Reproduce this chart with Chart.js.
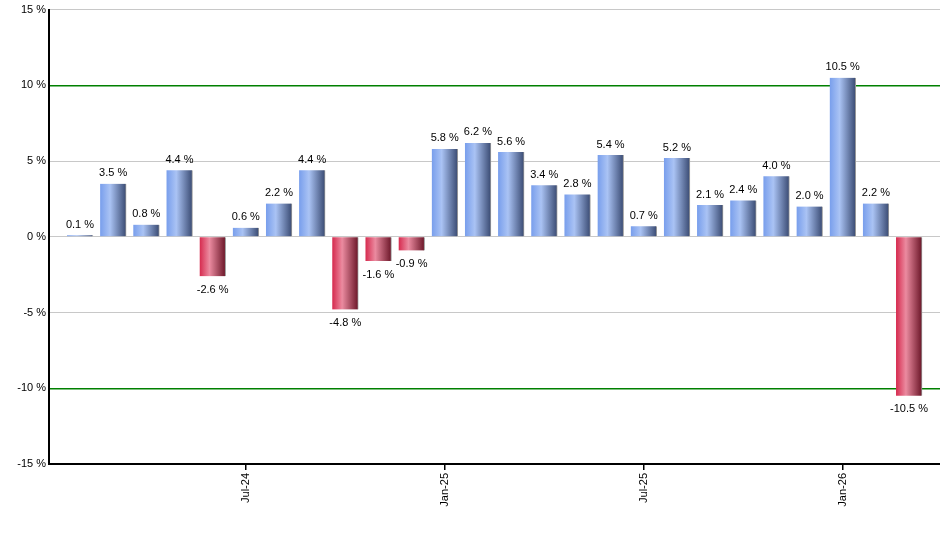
<!DOCTYPE html>
<html>
<head>
<meta charset="utf-8">
<script src="https://cdn.jsdelivr.net/npm/chart.js@4/dist/chart.umd.min.js"></script>
<style>
  html, body { margin: 0; padding: 0; background: #fff; }
  #wrap { width: 940px; height: 550px; }
</style>
</head>
<body>
<div id="wrap"><canvas id="chart"></canvas></div>
<script>
// monthly returns, Feb-24 .. Mar-26
const months = ["Feb-24","Mar-24","Apr-24","May-24","Jun-24","Jul-24","Aug-24","Sep-24","Oct-24","Nov-24","Dec-24",
  "Jan-25","Feb-25","Mar-25","Apr-25","May-25","Jun-25","Jul-25","Aug-25","Sep-25","Oct-25","Nov-25","Dec-25",
  "Jan-26","Feb-26","Mar-26"];
const returns = [0.1, 3.5, 0.8, 4.4, -2.6, 0.6, 2.2, 4.4, -4.8, -1.6, -0.9,
  5.8, 6.2, 5.6, 3.4, 2.8, 5.4, 0.7, 5.2, 2.1, 2.4, 4.0, 2.0,
  10.5, 2.2, -10.5];
const shownTicks = ["Jul-24", "Jan-25", "Jul-25", "Jan-26"];
const yTicks = [-15, -10, -5, 0, 5, 10, 15];

const FONT = "'Liberation Sans', Arial, sans-serif";

function barFill(context) {
  const chart = context.chart;
  const v = context.raw ? context.raw.y : 0;
  if (!chart.chartArea || !chart.scales.x) return v < 0 ? '#d8284c' : '#7aa0ec';
  const cx = chart.scales.x.getPixelForValue(context.raw.x);
  const g = chart.ctx.createLinearGradient(cx - 13, 0, cx + 13, 0);
  if (v < 0) {
    g.addColorStop(0, '#d62a4e');
    g.addColorStop(0.38, '#eb8ba0');
    g.addColorStop(1, '#6a1527');
  } else {
    g.addColorStop(0, '#789eec');
    g.addColorStop(0.38, '#aac3f4');
    g.addColorStop(1, '#394a72');
  }
  return g;
}

// value labels above / below each bar
const valueLabels = {
  id: 'valueLabels',
  afterDatasetsDraw(chart) {
    const ctx = chart.ctx;
    const meta = chart.getDatasetMeta(0);
    ctx.save();
    ctx.font = '11px ' + FONT;
    ctx.fillStyle = '#000';
    ctx.textAlign = 'center';
    meta.data.forEach(function (bar, i) {
      const v = returns[i];
      const txt = v.toFixed(1) + ' %';
      if (v >= 0) {
        ctx.textBaseline = 'bottom';
        ctx.fillText(txt, bar.x, bar.y - 5);
      } else {
        ctx.textBaseline = 'top';
        ctx.fillText(txt, bar.x, bar.y + 8);
      }
    });
    ctx.restore();
  }
};

const points = returns.map(function (v, i) { return { x: i, y: v }; });

new Chart(document.getElementById('chart'), {
  type: 'bar',
  data: {
    datasets: [{
      data: points,
      backgroundColor: barFill,
      borderColor: '#9a9a9a',
      borderWidth: { right: 1, top: 0, bottom: 0, left: 0 },
      borderSkipped: false,
      barThickness: 26
    }]
  },
  options: {
    responsive: true,
    maintainAspectRatio: false,
    animation: false,
    layout: { padding: { top: 9, right: 0, left: 0, bottom: 0 } },
    plugins: { legend: { display: false }, tooltip: { enabled: false } },
    scales: {
      x: {
        type: 'linear',
        offset: false,
        min: -0.934,
        max: 25.934,
        afterBuildTicks: function (scale) {
          scale.ticks = shownTicks.map(function (m) { return { value: months.indexOf(m) }; });
        },
        afterFit: function (scale) { scale.height = 86; },
        ticks: {
          autoSkip: false,
          minRotation: 90,
          maxRotation: 90,
          padding: 3,
          color: '#000',
          font: { family: FONT, size: 11 },
          callback: function (value) { return months[value]; }
        },
        grid: { offset: false, drawOnChartArea: false, drawTicks: true, tickLength: 6, color: '#000', lineWidth: 1.5 },
        border: { color: '#000', width: 2 }
      },
      y: {
        min: -15,
        max: 15,
        afterBuildTicks: function (scale) {
          scale.ticks = yTicks.map(function (v) { return { value: v }; });
        },
        afterFit: function (scale) { scale.width = 49; },
        ticks: {
          padding: 3,
          color: '#000',
          font: { family: FONT, size: 11 },
          callback: function (value) { return value + ' %'; }
        },
        grid: {
          drawTicks: false,
          color: function (c) {
            const v = c.tick ? c.tick.value : 0;
            if (v === 10 || v === -10) return '#008000';
            return '#c8c8c8';
          },
          lineWidth: function (c) {
            const v = c.tick ? c.tick.value : 0;
            return (v === 10 || v === -10) ? 1.5 : 1;
          }
        },
        border: { color: '#000', width: 2 }
      }
    }
  },
  plugins: [valueLabels]
});
</script>
</body>
</html>
